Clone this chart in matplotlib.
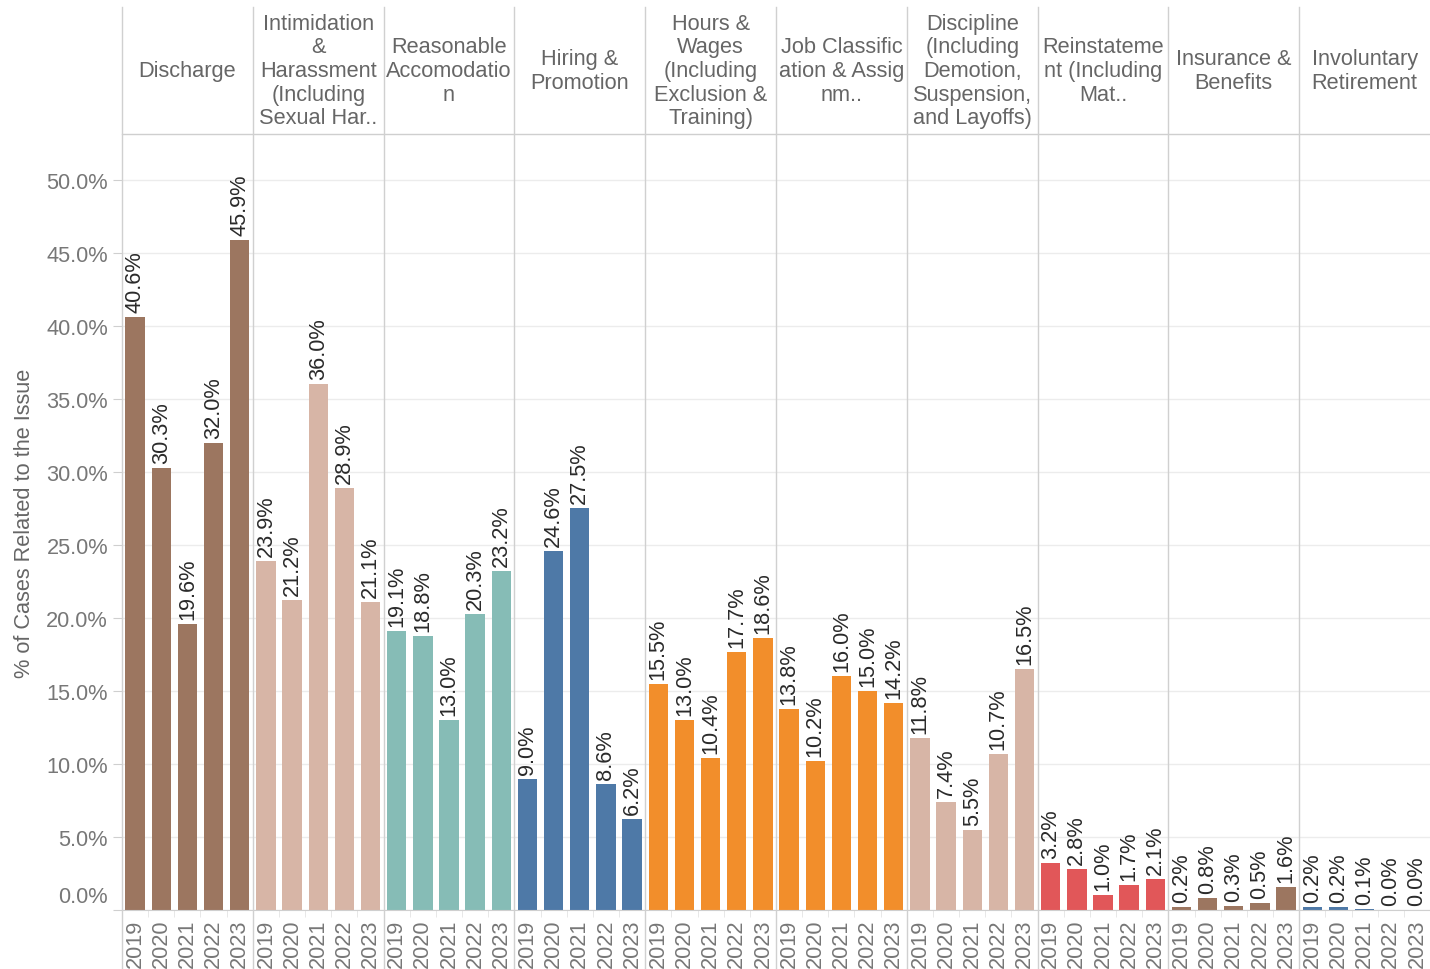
import matplotlib
matplotlib.use("Agg")
import matplotlib.pyplot as plt
from matplotlib.lines import Line2D

plt.rcParams['font.family'] = ['Liberation Sans', 'DejaVu Sans']

years = ['2019', '2020', '2021', '2022', '2023']
categories = [
    "Discharge",
    "Intimidation\n&\nHarassment\n(Including\nSexual Har..",
    "Reasonable\nAccomodatio\nn",
    "Hiring &\nPromotion",
    "Hours &\nWages\n(Including\nExclusion &\nTraining)",
    "Job Classific\nation & Assig\nnm..",
    "Discipline\n(Including\nDemotion,\nSuspension,\nand Layoffs)",
    "Reinstateme\nnt (Including\nMat..",
    "Insurance &\nBenefits",
    "Involuntary\nRetirement",
]
discharge = [40.6, 30.3, 19.6, 32.0, 45.9]
intimidation = [23.9, 21.2, 36.0, 28.9, 21.1]
accommodation = [19.1, 18.8, 13.0, 20.3, 23.2]
hiring = [9.0, 24.6, 27.5, 8.6, 6.2]
hours = [15.5, 13.0, 10.4, 17.7, 18.6]
job_class = [13.8, 10.2, 16.0, 15.0, 14.2]
discipline = [11.8, 7.4, 5.5, 10.7, 16.5]
reinstatement = [3.2, 2.8, 1.0, 1.7, 2.1]
insurance = [0.2, 0.8, 0.3, 0.5, 1.6]
involuntary = [0.2, 0.2, 0.1, 0.0, 0.0]
series = [discharge, intimidation, accommodation, hiring, hours,
          job_class, discipline, reinstatement, insurance, involuntary]
colors = ['#9C7660', '#D7B5A6', '#86BCB6', '#4E79A7', '#F28E2B',
          '#F28E2B', '#D7B5A6', '#E15759', '#9C7660', '#4E79A7']
yticks = [0, 5, 10, 15, 20, 25, 30, 35, 40, 45, 50]

W, H = 1430, 970
fig = plt.figure(figsize=(W / 100, H / 100), dpi=100)
FS = 15.7
left_px, right_px = 122, 1430
top_plot, base_px, header_top = 135, 911, 8

ax = fig.add_axes([left_px / W, (H - base_px) / H, (right_px - left_px) / W,
                   (base_px - top_plot) / H])
hax = fig.add_axes([left_px / W, (H - top_plot) / H, (right_px - left_px) / W,
                    (top_plot - header_top) / H])

n = len(categories)
ax.set_xlim(-0.5, n * 5 - 0.5)
ax.set_ylim(0, 53.15)

for i, vals in enumerate(series):
    xs = [i * 5 + j for j in range(5)]
    ax.bar(xs, vals, width=0.74, color=colors[i], zorder=3)
    for x, v in zip(xs, vals):
        ax.annotate(f"{v:.1f}%", xy=(x, v), xytext=(0, 5), textcoords='offset pixels',
                    rotation=90, ha='center', va='bottom', fontsize=FS,
                    color='#2a2a2a', zorder=4)

# grid
for t in yticks:
    ax.axhline(t, color='#ececec', lw=1, zorder=0)
for s in ['top', 'right', 'left']:
    ax.spines[s].set_visible(False)
ax.spines['bottom'].set_color('#cfcfcf')
ax.spines['bottom'].set_zorder(5)

# y ticks
ax.set_yticks(yticks)
ax.set_yticklabels([f"{t:.1f}%" if t != 0 else "" for t in yticks],
                   fontsize=FS, color='#777777')
ax.tick_params(axis='y', length=6.5, color='#cfcfcf', pad=3.5)
ax.annotate("0.0%", xy=(0, 0), xycoords=('axes fraction', 'data'),
            xytext=(-14, 13), textcoords='offset pixels', ha='right', va='center',
            fontsize=FS, color='#777777')

# x ticks
xpos = [i * 5 + j for i in range(n) for j in range(5)]
ax.set_xticks(xpos)
ax.set_xticklabels(years * n, rotation=90, fontsize=FS, color='#777777', va='top')
ax.tick_params(axis='x', length=0, pad=6)
ax.set_xticks([i * 5 + j + 0.5 for i in range(n) for j in range(4)], minor=True)
ax.tick_params(axis='x', which='minor', length=5, color='#e4e4e4')

# header
hax.set_xlim(-0.5, n * 5 - 0.5)
hax.set_ylim(0, 1)
hax.axis('off')
for i, c in enumerate(categories):
    hax.text(i * 5 + 2, 0.5, c, ha='center', va='center', fontsize=FS,
             color='#666666', linespacing=1.17)
fig.add_artist(Line2D([left_px / W, 1], [(H - top_plot) / H] * 2,
                      transform=fig.transFigure, color='#cfcfcf', lw=1))

# panel separators
pw = (right_px - left_px) / n
for i in range(n):
    x = (left_px + i * pw) / W
    fig.add_artist(Line2D([x, x], [0, (H - header_top) / H],
                          transform=fig.transFigure, color='#d0d0d0', lw=1))

fig.text(25 / W, (H - (top_plot + base_px) / 2) / H, "% of Cases Related to the Issue",
         rotation=90, ha='center', va='center', fontsize=FS, color='#666666')

fig.savefig('out.png', dpi=100)
